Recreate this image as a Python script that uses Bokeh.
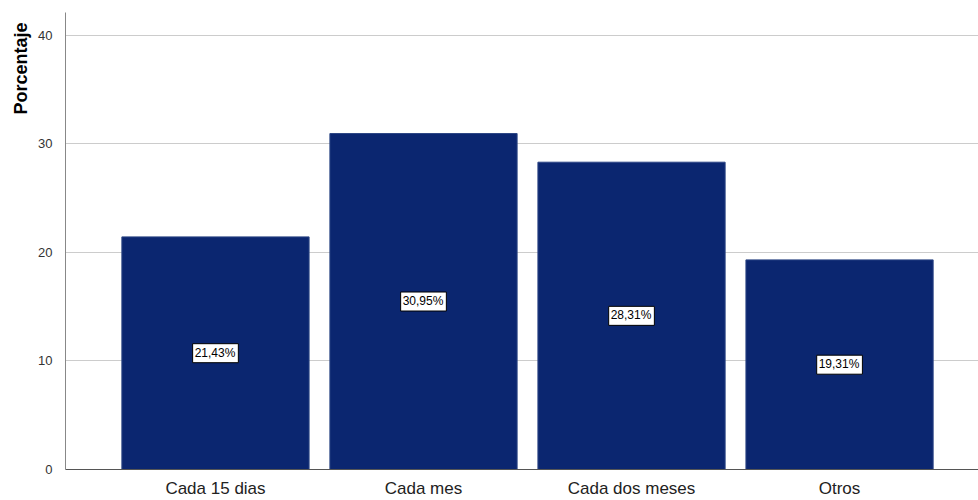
from bokeh.plotting import figure
from bokeh.models import ColumnDataSource, Range1d, FixedTicker, Title
from bokeh.core.properties import value
from bokeh.embed import file_html
from bokeh.resources import INLINE

categories = ["Cada 15 dias", "Cada mes", "Cada dos meses", "Otros"]
percentages = [21.43, 30.95, 28.31, 19.31]
label_texts = ["21,43%", "30,95%", "28,31%", "19,31%"]
y_ticks = [0, 10, 20, 30, 40]

xs = list(range(1, len(categories) + 1))
src = ColumnDataSource(dict(
    x=xs, top=percentages, mid=[v / 2 for v in percentages], lab=label_texts))

p = figure(width=978, height=500, output_backend="svg", toolbar_location=None,
           x_range=Range1d(0.279, 4.668), y_range=Range1d(0, 42.1),
           min_border_left=65, min_border_right=0, min_border_top=12, min_border_bottom=30)
p.outline_line_color = None
p.background_fill_color = "white"

p.vbar(x="x", top="top", width=0.9, source=src, fill_color="#0b2670",
       line_color="#2c4584", line_width=1)

p.text(x="x", y="mid", text="lab", source=src, text_align="center", text_baseline="middle",
       text_font=value("Liberation Sans"), text_font_size="12px", text_color="black",
       background_fill_color="white", border_line_color="black", border_line_width=1,
       padding=[2, 3, 2, 3])

p.xaxis.ticker = FixedTicker(ticks=xs)
p.xaxis.major_label_overrides = {x: c for x, c in zip(xs, categories)}
p.xaxis.major_tick_line_color = None
p.xaxis.minor_tick_line_color = None
p.xaxis.axis_line_color = "#555555"
p.xaxis.major_label_text_font = "Liberation Sans"
p.xaxis.major_label_text_font_size = "17px"
p.xaxis.major_label_text_color = "#222222"
p.xaxis.major_label_standoff = 3

p.yaxis.ticker = FixedTicker(ticks=y_ticks)
p.yaxis.major_tick_line_color = None
p.yaxis.minor_tick_line_color = None
p.yaxis.axis_line_color = "#888888"
p.yaxis.major_label_text_font = "Liberation Sans"
p.yaxis.major_label_text_font_size = "13px"
p.yaxis.major_label_text_color = "#333333"
p.yaxis.major_label_standoff = 7

ytitle = Title(text="Porcentaje", align="right", offset=10,
               text_font="Liberation Sans", text_font_style="bold",
               text_font_size="18px", text_color="black")
p.add_layout(ytitle, "left")

p.xgrid.grid_line_color = None
p.ygrid.ticker = FixedTicker(ticks=[10, 20, 30, 40])
p.ygrid.grid_line_color = "#cccccc"

open("out.html", "w").write(file_html(p, INLINE))
